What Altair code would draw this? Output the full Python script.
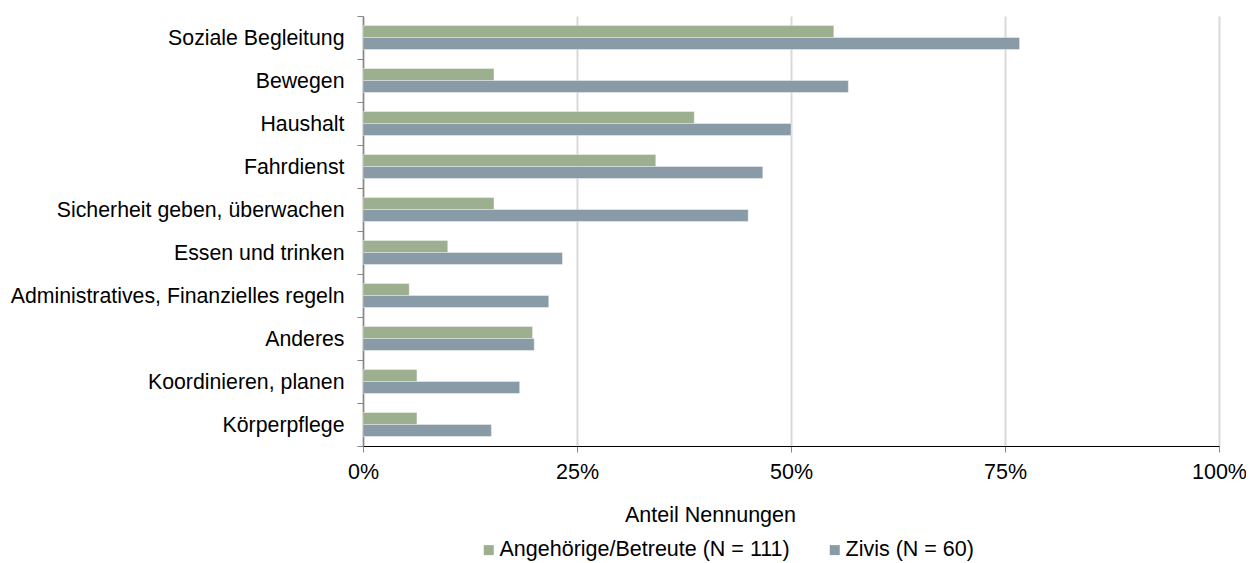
import altair as alt
import pandas as pd

categories = [
    "Soziale Begleitung",
    "Bewegen",
    "Haushalt",
    "Fahrdienst",
    "Sicherheit geben, überwachen",
    "Essen und trinken",
    "Administratives, Finanzielles regeln",
    "Anderes",
    "Koordinieren, planen",
    "Körperpflege",
]
series = ["Angehörige/Betreute (N = 111)", "Zivis (N = 60)"]
angehoerige = [0.550, 0.153, 0.387, 0.342, 0.153, 0.099, 0.054, 0.198, 0.063, 0.063]
zivis = [0.767, 0.567, 0.500, 0.467, 0.450, 0.233, 0.217, 0.200, 0.183, 0.150]
colors = ["#9caf8f", "#8a9ba8"]
x_ticks = [0, 0.25, 0.5, 0.75, 1.0]

rows = []
for c, a, z in zip(categories, angehoerige, zivis):
    rows.append({"Kategorie": c, "Gruppe": series[0], "Anteil": a})
    rows.append({"Kategorie": c, "Gruppe": series[1], "Anteil": z})
df = pd.DataFrame(rows)

FONT = "Liberation Sans"
FS = 21.5

chart = (
    alt.Chart(df)
    .mark_bar(stroke="white", strokeWidth=0.6, strokeOpacity=0.6)
    .encode(
        y=alt.Y(
            "Kategorie:N",
            sort=categories,
            title=None,
            scale=alt.Scale(paddingInner=0, paddingOuter=0),
            axis=alt.Axis(
                tickBand="extent",
                ticks=True,
                tickSize=6,
                tickColor="#868686",
                domainColor="#868686",
                domainWidth=1.5,
                labelPadding=13,
                labelOffset=1,
                labelFontSize=21.3,
                labelFont=FONT,
                labelColor="#000000",
                labelLimit=400,
                grid=False,
            ),
        ),
        yOffset=alt.YOffset(
            "Gruppe:N",
            sort=series,
            scale=alt.Scale(paddingInner=0, paddingOuter=0.79),
        ),
        x=alt.X(
            "Anteil:Q",
            scale=alt.Scale(domain=[0, 1], nice=False),
            title="Anteil Nennungen",
            axis=alt.Axis(
                values=x_ticks,
                format=".0%",
                grid=True,
                gridColor="#d9d9d9",
                gridWidth=2,
                tickSize=6,
                tickColor="#868686",
                domainColor="#000000",
                domainWidth=1,
                labelPadding=9,
                labelFontSize=FS,
                labelFont=FONT,
                labelColor="#000000",
                labelFlush=False,
                titleFontSize=FS,
                titleFont=FONT,
                titleFontWeight="normal",
                titleColor="#000000",
                titleX=347,
                titleY=58,
                titleAnchor="middle",
                titleAlign="center",
                titleBaseline="top",
            ),
        ),
        color=alt.Color(
            "Gruppe:N",
            sort=series,
            scale=alt.Scale(domain=series, range=colors),
            legend=alt.Legend(
                title=None,
                orient="none",
                direction="horizontal",
                legendX=115,
                legendY=523,
                symbolType="square",
                symbolSize=100,
                symbolStrokeWidth=0,
                labelFontSize=FS,
                labelFont=FONT,
                labelColor="#000000",
                labelOffset=0,
                columnPadding=34,
                labelLimit=400,
            ),
        ),
    )
    .properties(
        width=856,
        height=430,
        autosize=alt.AutoSizeParams(type="none"),
        padding={"left": 355, "top": 8, "right": 27, "bottom": 117},
    )
    .configure_view(stroke=None)
)

chart.save("out.html", embed_options={"renderer": "svg", "actions": False})
